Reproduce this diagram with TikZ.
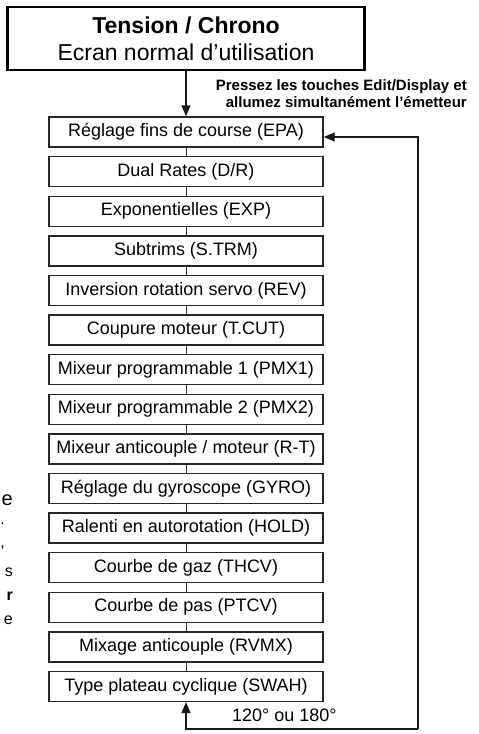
\documentclass[tikz,border=0pt]{standalone}
\usepackage{fontspec}
\setmainfont{Liberation Sans}
\usetikzlibrary{positioning, arrows.meta}
\tikzstyle{menu} = [draw=black!85, line width=1.4pt, minimum width=274pt, minimum height=30pt, inner sep=0pt, font=\fontsize{18}{21}\selectfont]
\tikzstyle{link} = [line width=1pt, black!80]
\tikzstyle{arrow} = [line width=1.4pt, black!90, -{Triangle[width=9pt,length=11pt]}]
\tikzstyle{frag} = [anchor=east, inner sep=0pt, font=\fontsize{16}{19}\selectfont]

\begin{document}
\begin{tikzpicture}[x=1pt, y=-1pt, node distance=8.2pt]
\useasboundingbox (0,0) rectangle (479,734);
\node[draw, line width=2.2pt, minimum width=357pt, minimum height=63pt, align=center, inner sep=0pt, font=\fontsize{23}{27}\selectfont] (screen) at (186,38.5) {\textbf{Tension / Chrono}\\Ecran normal d’utilisation};
\node[anchor=east, align=right, inner sep=0pt, font=\bfseries\fontsize{15}{17}\selectfont] (hint) at (467,94) {Pressez les touches Edit/Display et\\allumez simultanément l’émetteur};

\node[menu] (EPA) at (186,132) {Réglage fins de course (EPA)};
\node[menu, below=of EPA] (DR) {Dual Rates (D/R)};
\node[menu, below=of DR] (EXP) {Exponentielles (EXP)};
\node[menu, below=of EXP] (STRM) {Subtrims (S.TRM)};
\node[menu, below=of STRM] (REV) {Inversion rotation servo (REV)};
\node[menu, below=of REV] (TCUT) {Coupure moteur (T.CUT)};
\node[menu, below=of TCUT] (PMXa) {Mixeur programmable 1 (PMX1)};
\node[menu, below=of PMXa] (PMXb) {Mixeur programmable 2 (PMX2)};
\node[menu, below=of PMXb] (RT) {Mixeur anticouple / moteur (R-T)};
\node[menu, below=of RT] (GYRO) {Réglage du gyroscope (GYRO)};
\node[menu, below=of GYRO] (HOLD) {Ralenti en autorotation (HOLD)};
\node[menu, below=of HOLD] (THCV) {Courbe de gaz (THCV)};
\node[menu, below=of THCV] (PTCV) {Courbe de pas (PTCV)};
\node[menu, below=of PTCV] (RVMX) {Mixage anticouple (RVMX)};
\node[menu, below=of RVMX] (SWAH) {Type plateau cyclique (SWAH)};
\node[anchor=west, inner sep=0pt, font=\fontsize{18}{21}\selectfont] (angle) at (232,715) {120° ou 180°};

% fin de texte coupe a gauche
\node[frag, font=\fontsize{20}{24}\selectfont] (fa) at (13,500) {e};
\node[frag] (fb) at (5,524) {.};
\node[frag] (fc) at (5,548) {,};
\node[frag] (fd) at (13,572) {s};
\node[frag] (fe) at (13,596) {\textbf{r}};
\node[frag] (ff) at (13,620) {e};

\draw[arrow] (screen) -- (EPA);
\foreach \a/\b in {EPA/DR, DR/EXP, EXP/STRM, STRM/REV, REV/TCUT, TCUT/PMXa, PMXa/PMXb, PMXb/RT, RT/GYRO, GYRO/HOLD, HOLD/THCV, THCV/PTCV, PTCV/RVMX, RVMX/SWAH}
  \draw[link] (\a) -- (\b);

\coordinate (loop) at (418,729);
\draw[arrow] (loop) -| (SWAH.south);
\draw[arrow] (loop) |- ([yshift=-5pt]EPA.east);
\end{tikzpicture}
\end{document}
